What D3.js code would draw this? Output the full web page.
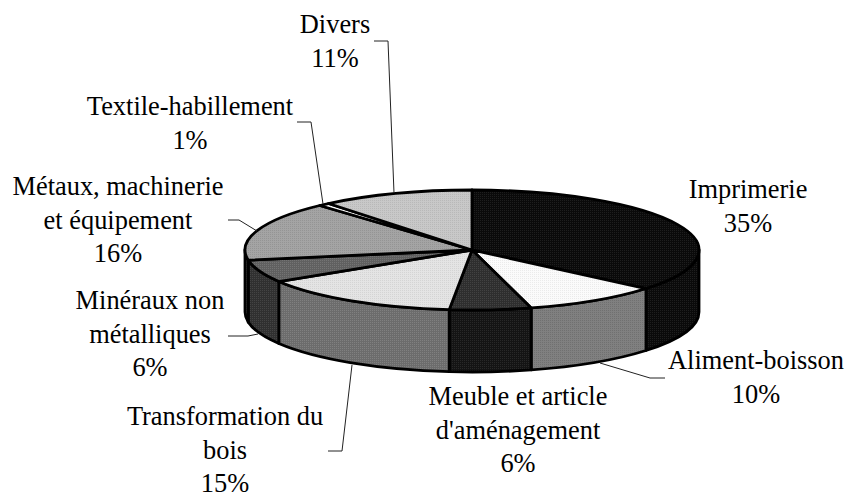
<!DOCTYPE html>
<html>
<head>
<meta charset="utf-8">
<script src="https://cdn.jsdelivr.net/npm/d3@7"></script>
<style>
  html, body { margin: 0; background: #fff; }
  text { font-family: "Liberation Serif", serif; font-size: 26.4px; fill: #000; }
</style>
</head>
<body>
<div id="chart"></div>
<script>
var sectors = ["Imprimerie", "Aliment-boisson", "Meuble et article d'aménagement", "Transformation du bois",
    "Minéraux non métalliques", "Métaux, machinerie et équipement", "Textile-habillement", "Divers"];
var shares = [36.1, 9.7, 5.8, 14.6, 6.1, 16.0, 0.8, 10.9];
var percentLabels = ["35%", "10%", "6%", "15%", "6%", "16%", "1%", "11%"];
var topColors = ["#0a0a0a", "#fbfbfb", "#2e2e2e", "#e4e4e4", "#606060", "#a4a4a4", "#ffffff", "#c8c8c8"];
var sideColors = ["#0a0a0a", "#808080", "#141414", "#6c6c6c", "#303030", "#383838", "#ffffff", "#c8c8c8"];

// label lines, in the order of sectors
var labelLines = [
    ["Imprimerie"],
    ["Aliment-boisson"],
    ["Meuble et article", "d'aménagement"],
    ["Transformation du", "bois"],
    ["Minéraux non", "métalliques"],
    ["Métaux, machinerie", "et équipement"],
    ["Textile-habillement"],
    ["Divers"]
];

var width = 846, height = 493;
var cx = 472, cy = 250, rx = 227, ry = 60, depth = 62;
var lineHeight = 33.7;

// label centre x and first baseline
var labelPos = [[748, 198], [756, 369], [518, 405], [225, 425], [150, 309], [118, 195], [190, 115], [335, 33]];
// elbow leader lines (label end, elbow), the last point is on the pie
var leaders = [
    [[665, 378], [650, 378], [600, 363]],
    [[328, 451], [342, 451], [352, 365]],
    [[228, 336], [248, 336], [258, 334]],
    [[228, 220], [239, 220], [257, 231]],
    [[297, 122], [311, 122], [323, 204]],
    [[374, 41], [388, 41], [394, 193]]
];

var svg = d3.select("#chart").append("svg")
    .attr("width", width)
    .attr("height", height);

// fine dither, like the hatched fills of the original
var defs = svg.append("defs");
function ditherPattern(id, color) {
    var c = d3.rgb(color);
    var shift = c.r < 128 ? 20 : -16;
    var p = defs.append("pattern")
        .attr("id", id)
        .attr("width", 2)
        .attr("height", 2)
        .attr("patternUnits", "userSpaceOnUse");
    p.append("rect").attr("width", 2).attr("height", 2).attr("fill", c.formatHex());
    p.append("rect").attr("width", 1).attr("height", 1)
        .attr("fill", d3.rgb(c.r + shift, c.g + shift, c.b + shift).formatHex());
}
topColors.forEach(function (c, i) { ditherPattern("top" + i, c); });
sideColors.forEach(function (c, i) { ditherPattern("side" + i, c); });

var arcs = d3.pie().sort(null)(shares);

var xScale = d3.scaleLinear().domain([-1, 1]).range([cx - rx, cx + rx]);
var yScale = d3.scaleLinear().domain([-1, 1]).range([cy - ry, cy + ry]);
function px(a) { return xScale(Math.sin(a)); }
function py(a) { return yScale(-Math.cos(a)); }

// wall of the cake: only the front half, between 90 and 270 degrees
function sidePath(a0, a1) {
    var p0 = [px(a0), py(a0)], p1 = [px(a1), py(a1)];
    return "M" + p0 + "A" + rx + "," + ry + " 0 0 1 " + p1 +
        "L" + p1[0] + "," + (p1[1] + depth) +
        "A" + rx + "," + ry + " 0 0 0 " + p0[0] + "," + (p0[1] + depth) + "Z";
}

function topPath(d) {
    var large = d.endAngle - d.startAngle > Math.PI ? 1 : 0;
    return "M" + cx + "," + cy + "L" + px(d.startAngle) + "," + py(d.startAngle) +
        "A" + rx + "," + ry + " 0 " + large + " 1 " + px(d.endAngle) + "," + py(d.endAngle) + "Z";
}

var front = arcs.map(function (d, i) {
    return {
        i: i,
        a0: Math.max(d.startAngle, Math.PI / 2),
        a1: Math.min(d.endAngle, Math.PI * 1.5)
    };
}).filter(function (d) { return d.a1 > d.a0; });

var strokeW = 2.8;

svg.append("g").selectAll("path")
    .data(front)
    .enter().append("path")
    .attr("d", function (d) { return sidePath(d.a0, d.a1); })
    .attr("fill", function (d) { return "url(#side" + d.i + ")"; })
    .attr("stroke", "#000")
    .attr("stroke-width", strokeW)
    .attr("stroke-linejoin", "round");

svg.append("g").selectAll("path")
    .data(arcs)
    .enter().append("path")
    .attr("d", topPath)
    .attr("fill", function (d, i) { return "url(#top" + i + ")"; })
    .attr("stroke", "#000")
    .attr("stroke-width", strokeW)
    .attr("stroke-linejoin", "round");

var line = d3.line();
svg.append("g").selectAll("path")
    .data(leaders)
    .enter().append("path")
    .attr("d", line)
    .attr("fill", "none")
    .attr("stroke", "#222")
    .attr("stroke-width", 1);

var labels = svg.append("g").selectAll("text")
    .data(labelLines)
    .enter().append("text")
    .attr("text-anchor", "middle")
    .attr("x", function (d, i) { return labelPos[i][0]; })
    .attr("y", function (d, i) { return labelPos[i][1]; });

labels.selectAll("tspan")
    .data(function (d, i) {
        return d.concat(percentLabels[i]).map(function (t) { return { t: t, x: labelPos[i][0] }; });
    })
    .enter().append("tspan")
    .attr("x", function (d) { return d.x; })
    .attr("dy", function (d, j) { return j ? lineHeight : 0; })
    .text(function (d) { return d.t; });
</script>
</body>
</html>
